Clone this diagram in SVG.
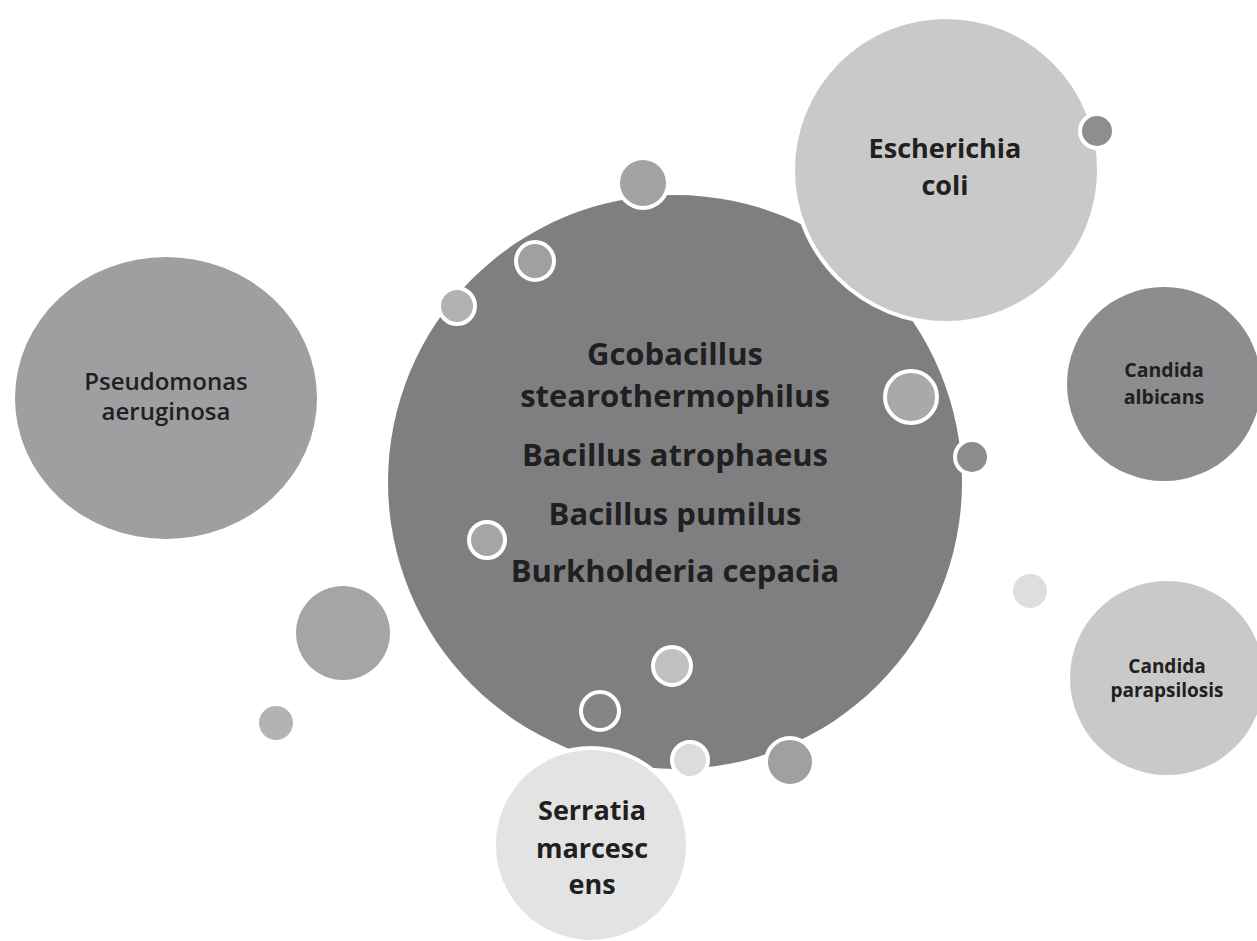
<svg xmlns="http://www.w3.org/2000/svg" width="1257" height="941" viewBox="0 0 1257 941">
<style>
.lbl{font-family:"Open Sans","Liberation Sans",sans-serif;font-weight:700;fill:#202020;text-anchor:middle}
.ws{stroke:#ffffff;stroke-width:4}
</style>
<rect width="1257" height="941" fill="#ffffff"/>
<g id="central">
<circle cx="675" cy="482" r="287" fill="#7f7f81"/>
<text class="lbl" font-size="31"><tspan x="675" y="365">Gcobacillus</tspan><tspan x="675" y="407">stearothermophilus</tspan><tspan x="675" y="466">Bacillus atrophaeus</tspan><tspan x="675" y="525">Bacillus pumilus</tspan><tspan x="675" y="582">Burkholderia cepacia</tspan></text>
</g>
<g id="ecoli">
<circle class="ws" cx="946" cy="170" r="153" fill="#c9c9c9"/>
<text class="lbl" font-size="27"><tspan x="945" y="158">Escherichia</tspan><tspan x="945" y="195">coli</tspan></text>
</g>
<g id="pseudomonas">
<ellipse cx="166" cy="398" rx="151" ry="141" fill="#9f9fa1"/>
<text class="lbl" font-size="24" style="font-weight:600"><tspan x="166" y="390">Pseudomonas</tspan><tspan x="166" y="420">aeruginosa</tspan></text>
</g>
<g id="albicans">
<circle cx="1164" cy="384" r="97" fill="#8d8d8f"/>
<text class="lbl" font-size="19.5"><tspan x="1164" y="377">Candida</tspan><tspan x="1164" y="404">albicans</tspan></text>
</g>
<g id="parapsilosis">
<circle cx="1167" cy="678" r="97" fill="#c9c9c9"/>
<text class="lbl" font-size="19"><tspan x="1167" y="673">Candida</tspan><tspan x="1167" y="697">parapsilosis</tspan></text>
</g>
<g id="serratia">
<circle class="ws" cx="591" cy="845" r="97" fill="#e3e3e3"/>
<text class="lbl" font-size="27"><tspan x="592" y="820">Serratia</tspan><tspan x="592" y="858">marcesc</tspan><tspan x="592" y="894">ens</tspan></text>
</g>
<g id="bubbles">
<circle class="ws" cx="643" cy="183" r="25" fill="#a3a3a5"/>
<circle class="ws" cx="535" cy="261" r="19" fill="#a0a0a2"/>
<circle class="ws" cx="457" cy="306" r="18" fill="#b2b2b4"/>
<circle class="ws" cx="911" cy="397" r="26" fill="#a9a9ab"/>
<circle class="ws" cx="972" cy="457" r="17" fill="#8c8c8e"/>
<circle class="ws" cx="487" cy="540" r="18" fill="#a5a5a7"/>
<circle class="ws" cx="672" cy="666" r="19" fill="#c0c0c2"/>
<circle class="ws" cx="600" cy="711" r="19" fill="#858587"/>
<circle class="ws" cx="690" cy="760" r="18" fill="#dcdcdc"/>
<circle class="ws" cx="790" cy="762" r="24" fill="#a0a0a2"/>
<circle class="ws" cx="1097" cy="131" r="17" fill="#8e8e90"/>
<circle cx="343" cy="633" r="47" fill="#a5a5a7"/>
<circle cx="276" cy="723" r="17" fill="#b3b3b5"/>
<circle cx="1030" cy="591" r="17" fill="#dedede"/>
</g>
</svg>
